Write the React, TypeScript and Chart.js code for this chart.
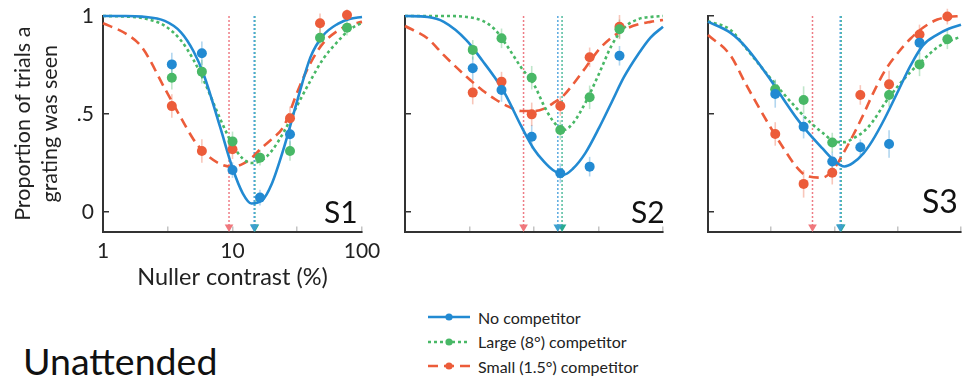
import React, { useEffect, useRef } from 'react';
import { Chart, registerables } from 'chart.js';

Chart.register(...registerables);

const FONT = 'Lato, "Open Sans", "DejaVu Sans", sans-serif';

// ---------- data ----------
// sample positions along the fitted curves (nuller contrast, %)
const curveX = [1, 1.5, 2, 3, 4, 5, 6, 8, 10, 12, 14, 17, 20, 25, 32, 40, 50, 65, 80, 100];

const seriesNames = ['No competitor', 'Large (8°) competitor', 'Small (1.5°) competitor'];

const xTicks = [1, 3.162, 10, 31.62, 100];
const xTickLabels = ['1', '', '10', '', '100'];
const yTicks = [0, 0.5, 1];
const yTickLabels = ['0', '.5', '1'];

// S1
const s1NoCurve = [1.0, 1.0, 0.997, 0.975, 0.917, 0.82, 0.7, 0.436, 0.224, 0.095, 0.043, 0.06, 0.14, 0.33, 0.58, 0.79, 0.9, 0.96, 0.985, 0.995];
const s1LargeCurve = [1.0, 0.997, 0.99, 0.95, 0.875, 0.776, 0.671, 0.478, 0.344, 0.272, 0.25, 0.265, 0.31, 0.41, 0.55, 0.67, 0.78, 0.87, 0.93, 0.965];
const s1SmallCurve = [0.963, 0.91, 0.84, 0.63, 0.48, 0.37, 0.305, 0.245, 0.23, 0.245, 0.275, 0.33, 0.37, 0.44, 0.62, 0.76, 0.86, 0.925, 0.955, 0.97];
const s1PointX = [3.4, 5.8, 10, 16.3, 27.8, 47.4, 76.6];
const s1NoPts = [0.753, 0.81, 0.214, 0.073, 0.396, null, null];
const s1LargePts = [0.685, 0.716, 0.36, 0.277, 0.311, 0.889, 0.94];
const s1SmallPts = [0.54, 0.311, 0.32, null, 0.478, 0.963, 1.005];
const s1NoErr = [0.06, 0.06, 0.04, 0.04, 0.06, 0, 0];
const s1LargeErr = [0.06, 0.06, 0.05, 0.04, 0.05, 0.05, 0.04];
const s1SmallErr = [0.06, 0.06, 0.05, 0, 0.06, 0.05, 0.03];
const s1Thresholds = [14.7, 14.9, 9.4];

// S2
const s2NoCurve = [1.0, 0.995, 0.97, 0.876, 0.77, 0.683, 0.6, 0.435, 0.32, 0.255, 0.214, 0.19, 0.22, 0.3, 0.43, 0.56, 0.69, 0.81, 0.89, 0.945];
const s2LargeCurve = [1.0, 1.0, 1.0, 0.995, 0.975, 0.93, 0.86, 0.735, 0.65, 0.54, 0.465, 0.418, 0.452, 0.557, 0.707, 0.85, 0.94, 0.985, 0.995, 1.0];
const s2SmallCurve = [0.949, 0.885, 0.8, 0.69, 0.62, 0.575, 0.545, 0.515, 0.515, 0.527, 0.554, 0.595, 0.65, 0.735, 0.83, 0.89, 0.93, 0.958, 0.97, 0.98];
const s2PointX = [3.35, 5.6, 9.6, 16, 27, 46];
const s2NoPts = [0.733, 0.622, 0.384, 0.197, 0.231, 0.797];
const s2LargePts = [0.827, 0.886, 0.685, 0.418, 0.585, 0.932];
const s2SmallPts = [0.609, 0.665, 0.498, 0.541, 0.789, 0.945];
const s2NoErr = [0.06, 0.06, 0.06, 0.05, 0.05, 0.05];
const s2LargeErr = [0.05, 0.05, 0.06, 0.05, 0.06, 0.05];
const s2SmallErr = [0.06, 0.05, 0.06, 0.05, 0.05, 0.06];
const s2Thresholds = [15.3, 16.5, 8.3];

// S3
const s3NoCurve = [0.971, 0.915, 0.84, 0.69, 0.57, 0.48, 0.415, 0.325, 0.26, 0.232, 0.25, 0.3, 0.365, 0.478, 0.62, 0.748, 0.85, 0.905, 0.935, 0.955];
const s3LargeCurve = [0.973, 0.93, 0.835, 0.695, 0.6, 0.53, 0.475, 0.405, 0.36, 0.356, 0.375, 0.41, 0.46, 0.555, 0.645, 0.715, 0.775, 0.84, 0.87, 0.895];
const s3SmallCurve = [0.903, 0.8, 0.65, 0.45, 0.32, 0.23, 0.185, 0.175, 0.225, 0.31, 0.39, 0.5, 0.6, 0.72, 0.815, 0.885, 0.94, 0.982, 0.995, 1.0];
const s3PointX = [3.4, 5.7, 9.6, 16, 27, 47, 78];
const s3NoPts = [0.602, 0.435, 0.257, 0.33, 0.347, 0.864, null];
const s3LargePts = [0.626, 0.571, 0.354, null, 0.597, 0.753, 0.881];
const s3SmallPts = [0.398, 0.143, 0.2, 0.597, 0.651, 0.906, 0.997];
const s3NoErr = [0.07, 0.06, 0.05, 0.04, 0.07, 0.06, 0];
const s3LargeErr = [0.05, 0.07, 0.05, 0, 0.06, 0.06, 0.05];
const s3SmallErr = [0.06, 0.07, 0.06, 0.05, 0.07, 0.05, 0.04];
const s3Thresholds = [11.1, 11.3, 6.7];

// ---------- styles ----------
const SERIES_STYLE = [
  { color: 'rgb(34,138,210)', dash: [] as number[], err: 'rgba(34,138,210,0.35)', thr: 'rgba(70,160,220,0.9)', tri: 'rgb(60,160,205)' },
  { color: 'rgb(72,184,102)', dash: [3, 3], err: 'rgba(72,184,102,0.35)', thr: 'rgba(50,175,140,0.85)', tri: 'rgb(40,170,145)' },
  { color: 'rgb(236,92,58)', dash: [10, 6], err: 'rgba(236,92,58,0.35)', thr: 'rgba(236,110,120,0.9)', tri: 'rgb(240,120,125)' },
];

const CANVAS_W = 966;
const CANVAS_H = 300;
const PLOT_TOP = 16;
const PLOT_BOTTOM = 231.5;

const panels = [
  {
    name: 'S1', plotLeft: 103, plotRight: 362, yAxisWidth: 103, showLabels: true,
    curves: [s1NoCurve, s1LargeCurve, s1SmallCurve],
    ptX: s1PointX, pts: [s1NoPts, s1LargePts, s1SmallPts], errs: [s1NoErr, s1LargeErr, s1SmallErr],
    thr: s1Thresholds, labelPos: { left: 324, top: 195.5, size: 30 },
  },
  {
    name: 'S2', plotLeft: 405, plotRight: 663, yAxisWidth: 20, showLabels: false,
    curves: [s2NoCurve, s2LargeCurve, s2SmallCurve],
    ptX: s2PointX, pts: [s2NoPts, s2LargePts, s2SmallPts], errs: [s2NoErr, s2LargeErr, s2SmallErr],
    thr: s2Thresholds, labelPos: { left: 631, top: 195.5, size: 30 },
  },
  {
    name: 'S3', plotLeft: 708, plotRight: 966, yAxisWidth: 20, showLabels: false,
    curves: [s3NoCurve, s3LargeCurve, s3SmallCurve],
    ptX: s3PointX, pts: [s3NoPts, s3LargePts, s3SmallPts], errs: [s3NoErr, s3LargeErr, s3SmallErr],
    thr: s3Thresholds, labelPos: { left: 922, top: 184.5, size: 32 },
  },
];

const errorBarPlugin = {
  id: 'errorBars',
  beforeDatasetsDraw(chart: any) {
    const { ctx } = chart;
    const xs = chart.scales.x;
    const ys = chart.scales.y;
    chart.data.datasets.forEach((ds: any) => {
      if (!ds.errors) return;
      ctx.save();
      ctx.strokeStyle = ds.errorColor;
      ctx.lineWidth = 1.6;
      ds.data.forEach((pt: any, i: number) => {
        const e = ds.errors[i];
        if (!e) return;
        const px = xs.getPixelForValue(pt.x);
        ctx.beginPath();
        ctx.moveTo(px, ys.getPixelForValue(pt.y - e));
        ctx.lineTo(px, ys.getPixelForValue(pt.y + e));
        ctx.stroke();
      });
      ctx.restore();
    });
  },
};

const zeroPadding = (s: any) => {
  s.paddingTop = 0;
  s.paddingBottom = 0;
  s.paddingLeft = 0;
  s.paddingRight = 0;
};

function makeConfig(p: any): any {
  const datasets: any[] = [];
  SERIES_STYLE.forEach((st, i) => {
    datasets.push({
      label: seriesNames[i] + ' fit',
      data: curveX.map((x, k) => ({ x, y: p.curves[i][k] })),
      showLine: true,
      borderColor: st.color,
      borderWidth: 2.6,
      borderDash: st.dash,
      pointRadius: 0,
      pointHoverRadius: 0,
      cubicInterpolationMode: 'monotone',
      fill: false,
      order: 1,
      clip: false,
    });
  });
  SERIES_STYLE.forEach((st, i) => {
    const data: any[] = [];
    const errs: number[] = [];
    p.ptX.forEach((x: number, k: number) => {
      const y = p.pts[i][k];
      if (y == null) return;
      data.push({ x, y });
      errs.push(p.errs[i][k]);
    });
    datasets.push({
      label: seriesNames[i],
      data,
      errors: errs,
      errorColor: st.err,
      showLine: false,
      pointRadius: 5,
      pointHoverRadius: 5,
      backgroundColor: st.color,
      borderColor: st.color,
      borderWidth: 0,
      order: 0,
      clip: false,
    });
  });
  SERIES_STYLE.forEach((st, i) => {
    const t = p.thr[i];
    datasets.push({
      label: seriesNames[i] + ' threshold',
      data: [{ x: t, y: 1 }, { x: t, y: -0.07 }],
      showLine: true,
      borderColor: st.thr,
      borderWidth: 1.5,
      borderDash: [2, 2],
      pointRadius: 0,
      pointHoverRadius: 0,
      order: 2,
      clip: false,
    });
    datasets.push({
      label: seriesNames[i] + ' marker',
      data: [{ x: t, y: -0.077 }],
      showLine: false,
      pointStyle: 'triangle',
      rotation: 180,
      pointRadius: 5,
      pointHoverRadius: 5,
      backgroundColor: st.tri,
      borderColor: st.tri,
      borderWidth: 0,
      order: 2,
      clip: false,
    });
  });

  return {
    type: 'scatter',
    data: { datasets },
    plugins: [errorBarPlugin],
    options: {
      responsive: false,
      animation: false,
      events: [],
      layout: {
        padding: {
          left: p.plotLeft - p.yAxisWidth,
          right: CANVAS_W - p.plotRight,
          top: PLOT_TOP,
          bottom: 0,
        },
      },
      plugins: { legend: { display: false }, tooltip: { enabled: false } },
      scales: {
        x: {
          type: 'logarithmic',
          min: 1,
          max: 100,
          position: 'bottom',
          afterBuildTicks: (s: any) => { s.ticks = xTicks.map((v) => ({ value: v })); },
          afterFit: (s: any) => { s.height = CANVAS_H - PLOT_BOTTOM; zeroPadding(s); },
          ticks: {
            display: p.showLabels,
            autoSkip: false,
            maxRotation: 0,
            padding: 12,
            color: '#222',
            font: { family: FONT, size: 21 },
            callback: (_v: any, i: number) => xTickLabels[i],
          },
          grid: { drawOnChartArea: false, drawTicks: true, tickLength: -5, color: '#c4c4c4', lineWidth: 1.5 },
          border: { display: true, color: '#333', width: 2 },
          title: {
            display: p.showLabels,
            text: 'Nuller contrast (%)',
            color: '#222',
            font: { family: FONT, size: 23.5 },
            padding: { top: 0, bottom: 8 },
          },
        },
        y: {
          type: 'linear',
          min: -0.1,
          max: 1,
          afterBuildTicks: (s: any) => { s.ticks = yTicks.map((v) => ({ value: v })); },
          afterFit: (s: any) => { s.width = p.yAxisWidth; zeroPadding(s); },
          ticks: {
            display: p.showLabels,
            padding: 15,
            color: '#222',
            font: { family: FONT, size: 21 },
            callback: (_v: any, i: number) => yTickLabels[i],
          },
          grid: { drawOnChartArea: false, drawTicks: true, tickLength: -6, color: '#333', lineWidth: 1.5 },
          border: { display: true, color: '#333', width: 2 },
          title: {
            display: p.showLabels,
            text: ['Proportion of trials a', 'grating was seen'],
            color: '#222',
            font: { family: FONT, size: 21.5, lineHeight: 1.25 },
            padding: { top: 9.5, bottom: 0 },
          },
        },
      },
    },
  };
}

function Panel({ spec }: { spec: any }) {
  const ref = useRef<HTMLCanvasElement | null>(null);
  useEffect(() => {
    if (!ref.current) return;
    const chart = new Chart(ref.current, makeConfig(spec));
    return () => chart.destroy();
  }, [spec]);
  return (
    <canvas
      ref={ref}
      width={CANVAS_W}
      height={CANVAS_H}
      style={{ position: 'absolute', left: 0, top: 0, width: CANVAS_W, height: CANVAS_H }}
    />
  );
}

function LegendSample({ i }: { i: number }) {
  const st = SERIES_STYLE[i];
  return (
    <svg width={44} height={14} style={{ display: 'block' }}>
      <line x1={1} y1={7} x2={43} y2={7} stroke={st.color} strokeWidth={2.5} strokeDasharray={st.dash.length ? st.dash.join(',') : undefined} />
      <circle cx={22} cy={7} r={3.6} fill={st.color} />
    </svg>
  );
}

export default function App() {
  return (
    <div style={{ position: 'absolute', left: 0, top: 0, width: 966, height: 377, overflow: 'hidden', background: '#fff', fontFamily: FONT }}>
      {panels.map((p) => (
        <Panel key={p.name} spec={p} />
      ))}
      {panels.map((p) => (
        <div key={p.name + 'lbl'} style={{ position: 'absolute', left: p.labelPos.left, top: p.labelPos.top, fontSize: p.labelPos.size, lineHeight: p.labelPos.size + 'px', color: '#111' }}>
          {p.name}
        </div>
      ))}
      <div style={{ position: 'absolute', left: 427, top: 305, fontSize: 16, color: '#222' }}>
        {seriesNames.map((n, i) => (
          <div key={n} style={{ display: 'flex', alignItems: 'center', height: 24.5 }}>
            <LegendSample i={i} />
            <span style={{ marginLeft: 7 }}>{n}</span>
          </div>
        ))}
      </div>
      <div style={{ position: 'absolute', left: 23, top: 342, fontSize: 37.5, lineHeight: '37.5px', color: '#111' }}>
        Unattended
      </div>
    </div>
  );
}
